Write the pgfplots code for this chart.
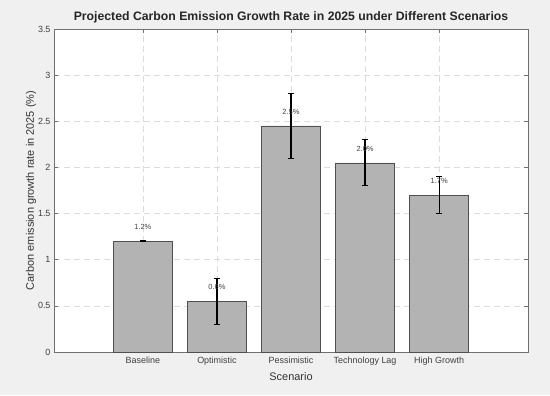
\documentclass[border=0pt]{standalone}
\usepackage{fontspec}
\setmainfont{Liberation Sans}
\usepackage{pgfplots}
\pgfplotsset{compat=1.18}
\usepackage{pgfplotstable}
\usetikzlibrary{backgrounds}
\definecolor{figbg}{HTML}{F0F0F0}
\definecolor{barfill}{HTML}{B3B3B3}
\definecolor{bardraw}{HTML}{505050}
\definecolor{axcol}{HTML}{707070}
\definecolor{gridcol}{HTML}{DCDCDC}
\definecolor{txtcol}{HTML}{404040}
\pgfplotstableread{
x y err lab
1 1.20 0.005 1.2
2 0.55 0.25 0.6
3 2.45 0.35 2.5
4 2.05 0.25 2.0
5 1.70 0.20 1.7
}\data
\begin{document}
\begin{tikzpicture}
\begin{axis}[
  scale only axis,
  width=474bp, height=323bp,
  xmin=-0.2, xmax=6.2,
  ymin=0, ymax=3.5,
  xtick={1,2,3,4,5},
  xticklabels={Baseline,Optimistic,Pessimistic,Technology Lag,High Growth},
  ytick={0,0.5,1,1.5,2,2.5,3,3.5},
  yticklabels={0,0.5,1,1.5,2,2.5,3,3.5},
  grid=major,
  major grid style={gridcol, line width=0.5bp, dash pattern=on 6bp off 4bp},
  axis line style={axcol, line width=0.6bp},
  tick style={axcol, line width=0.5bp},
  major tick length=4bp,
  tick label style={font=\fontsize{9}{10}\selectfont, text=txtcol},
  xticklabel style={yshift=-1bp},
  title={\bfseries Projected Carbon Emission Growth Rate in 2025 under Different Scenarios},
  title style={font=\fontsize{12.3}{13}\selectfont, text=black!85, yshift=-4bp},
  xlabel={Scenario},
  ylabel={Carbon emission growth rate in 2025 (\%)},
  label style={font=\fontsize{11}{12}\selectfont, text=black!80},
  xlabel style={yshift=-1bp},
  ylabel style={yshift=-5bp},
  axis background/.style={fill=white},
]
\addplot[ybar, bar width=0.8, fill=barfill, draw=bardraw, line width=0.6bp,
  point meta=explicit symbolic,
  nodes near coords={\pgfplotspointmeta\%},
  nodes near coords style={font=\fontsize{7.5}{8}\selectfont, text=txtcol, anchor=center, inner sep=0pt, yshift=14bp},
  error bars/.cd, y dir=both, y explicit,
  error bar style={black, line width=1.2bp},
  error mark options={rotate=90, mark size=3bp, black, line width=1.2bp}]
  table[x=x, y=y, y error=err, meta=lab] {\data};
\end{axis}
\begin{scope}[on background layer]
\fill[figbg] ([shift={(-54bp,-43bp)}]current axis.south west) rectangle ([shift={(22bp,29bp)}]current axis.north east);
\end{scope}
\end{tikzpicture}
\end{document}
